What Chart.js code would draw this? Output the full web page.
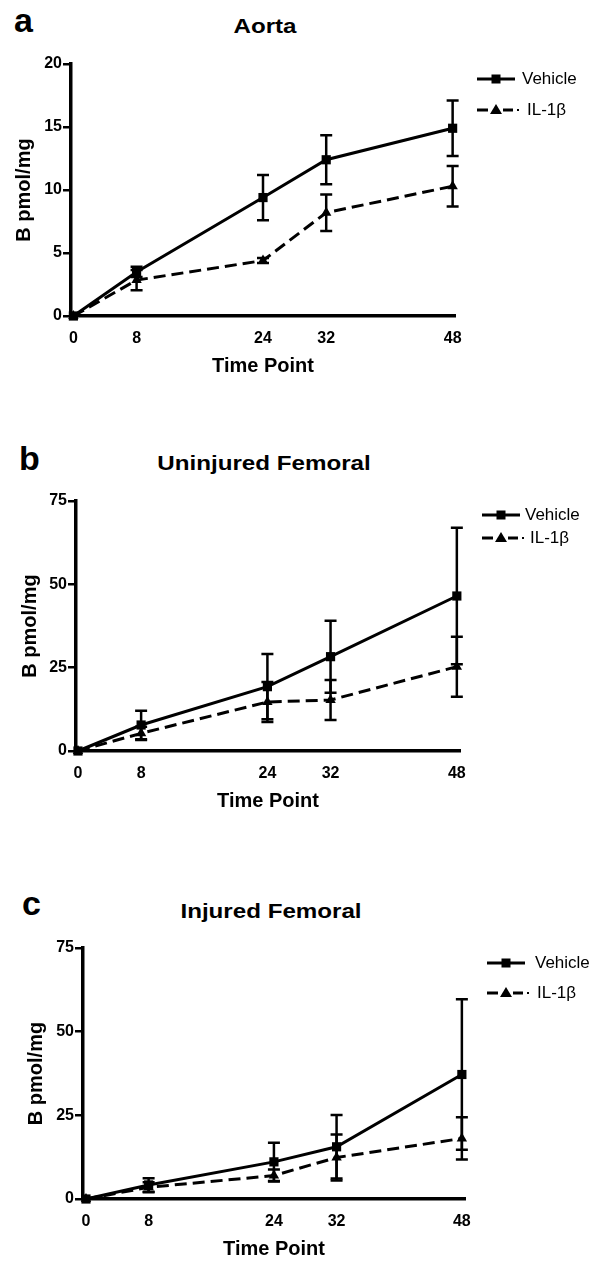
<!DOCTYPE html>
<html>
<head>
<meta charset="utf-8">
<script src="https://cdn.jsdelivr.net/npm/chart.js@4.4.0/dist/chart.umd.min.js"></script>
<style>
body { margin: 0; background: #fff; width: 591px; height: 1262px; position: relative; overflow: hidden; font-family: "Liberation Sans", Arial, sans-serif; color: #000; }
canvas { position: absolute; left: 0; }
.letter { position: absolute; font-weight: bold; font-size: 34px; line-height: 1; }
.title { position: absolute; font-weight: bold; font-size: 21px; line-height: 1; transform: translateX(-50%) scaleX(1.15); white-space: nowrap; }
</style>
</head>
<body>
<div class="letter" style="left:14px;top:3px">a</div>
<div class="title" style="left:265px;top:15px">Aorta</div>
<canvas id="chartA" style="top:0px"></canvas>

<div class="letter" style="left:19px;top:441px">b</div>
<div class="title" style="left:264px;top:452px">Uninjured Femoral</div>
<canvas id="chartB" style="top:420px"></canvas>

<div class="letter" style="left:22px;top:886px">c</div>
<div class="title" style="left:271px;top:900px">Injured Femoral</div>
<canvas id="chartC" style="top:820px"></canvas>

<script>
// time points (hours)
const timePoints = [0, 8, 24, 32, 48];

// a - Aorta
const aortaVehicle = [0, 3.5, 9.4, 12.4, 14.9];
const aortaVehicleErr = [0, 0.4, 1.8, 1.95, 2.2];
const aortaIL = [0, 2.85, 4.4, 8.2, 10.3];
const aortaILErr = [0, 0.8, 0.2, 1.45, 1.6];

// b - Uninjured Femoral
const uninjVehicle = [0, 7.8, 19.3, 28.3, 46.5];
const uninjVehicleErr = [0, 4.3, 9.8, 10.8, 20.5];
const uninjIL = [0, 5.3, 14.7, 15.3, 25.3];
const uninjILErr = [0, 2, 6, 6, 9];

// c - Injured Femoral
const injVehicle = [0, 4.2, 11.1, 15.6, 37.2];
const injVehicleErr = [0, 2, 5.7, 9.5, 22.5];
const injIL = [0, 3.5, 7.0, 12.4, 18.1];
const injILErr = [0, 1.5, 1.8, 6.9, 6.3];

const FONT = '"Liberation Sans", Arial, sans-serif';

function toPts(vals) {
  return vals.map((v, i) => ({ x: timePoints[i], y: v }));
}

// vertical SEM bars with caps
const errorBars = {
  id: 'errorBars',
  afterDatasetsDraw(chart) {
    const ctx = chart.ctx;
    const xs = chart.scales.x, ys = chart.scales.y;
    chart.data.datasets.forEach(ds => {
      if (!ds.err) return;
      ctx.save();
      ctx.strokeStyle = '#000';
      ctx.lineWidth = 2.5;
      ctx.setLineDash([]);
      ds.data.forEach((p, i) => {
        const e = ds.err[i];
        if (!e) return;
        const px = xs.getPixelForValue(p.x);
        const top = ys.getPixelForValue(p.y + e);
        const bot = ys.getPixelForValue(Math.max(p.y - e, 0));
        ctx.beginPath();
        ctx.moveTo(px, top); ctx.lineTo(px, bot);
        ctx.moveTo(px - 6, top); ctx.lineTo(px + 6, top);
        ctx.moveTo(px - 6, bot); ctx.lineTo(px + 6, bot);
        ctx.stroke();
      });
      ctx.restore();
    });
  }
};

// legend at the right side, prism style
const sideLegend = {
  id: 'sideLegend',
  afterDraw(chart, args, o) {
    const ctx = chart.ctx;
    ctx.save();
    ctx.fillStyle = '#000';
    ctx.strokeStyle = '#000';
    ctx.lineWidth = 3;
    // Vehicle
    ctx.beginPath();
    ctx.moveTo(o.x, o.y1); ctx.lineTo(o.x + 38, o.y1);
    ctx.stroke();
    ctx.fillRect(o.x + 19 - 4.5, o.y1 - 4.5, 9, 9);
    // IL-1b
    ctx.beginPath();
    ctx.moveTo(o.x, o.y2); ctx.lineTo(o.x + 11, o.y2);
    ctx.moveTo(o.x + 26, o.y2); ctx.lineTo(o.x + 36, o.y2);
    ctx.stroke();
    ctx.beginPath();
    ctx.moveTo(o.x + 19, o.y2 - 6);
    ctx.lineTo(o.x + 25, o.y2 + 4);
    ctx.lineTo(o.x + 13, o.y2 + 4);
    ctx.closePath();
    ctx.fill();
    ctx.fillRect(o.x + 40, o.y2 - 1, 2, 2);

    ctx.font = '17px ' + FONT;
    ctx.textBaseline = 'middle';
    ctx.fillText('Vehicle', o.tx1, o.y1);
    ctx.fillText('IL-1\u03b2', o.tx2, o.y2);
    ctx.restore();
  }
};

function makeChart(id, c) {
  const canvas = document.getElementById(id);
  canvas.width = 591;
  canvas.height = c.h;
  const xHeight = c.xTitle + 12 - c.axisY;
  new Chart(canvas, {
    type: 'line',
    data: {
      datasets: [
        {
          label: 'Vehicle', data: toPts(c.veh), err: c.vehErr,
          borderColor: '#000', backgroundColor: '#000', borderWidth: 3,
          pointStyle: 'rect', pointRadius: 6.5, pointBorderWidth: 0, clip: false
        },
        {
          label: 'IL-1\u03b2', data: toPts(c.il), err: c.ilErr,
          borderColor: '#000', backgroundColor: '#000', borderWidth: 3, borderDash: [12, 6],
          pointStyle: 'triangle', pointRadius: 6, pointBorderWidth: 0, clip: false
        }
      ]
    },
    options: {
      responsive: false,
      animation: false,
      events: [],
      layout: { padding: { left: 0, right: 591 - c.right, top: c.top, bottom: c.h - (c.xTitle + 12) } },
      plugins: { legend: { display: false }, tooltip: { enabled: false }, sideLegend: c.legend },
      scales: {
        x: {
          type: 'linear', min: c.xMin, max: c.xMax,
          afterFit: s => { s.height = xHeight; },
          afterBuildTicks: s => { s.ticks = timePoints.map(v => ({ value: v })); },
          grid: { display: false, drawTicks: false },
          border: { display: true, color: '#000', width: 3.5 },
          ticks: { color: '#000', padding: 13, maxRotation: 0, autoSkip: false, font: { family: FONT, size: 16, weight: 'bold' } },
          title: { display: true, text: 'Time Point', color: '#000', padding: 0, font: { family: FONT, size: 20, weight: 'bold', lineHeight: 1.2 } }
        },
        y: {
          min: 0, max: c.yMax,
          afterFit: s => { s.width = c.left; },
          grid: { display: true, drawOnChartArea: false, drawTicks: true, tickLength: 8, color: '#000', lineWidth: 2.5 },
          border: { display: true, color: '#000', width: 3.5 },
          ticks: { stepSize: c.yStep, color: '#000', padding: 1, font: { family: FONT, size: 16, weight: 'bold' } },
          title: { display: true, text: 'B pmol/mg', color: '#000', padding: { top: c.yTitleX - 12 }, font: { family: FONT, size: 20, weight: 'bold', lineHeight: 1.2 } }
        }
      }
    },
    plugins: [errorBars, sideLegend]
  });
}

makeChart('chartA', {
  h: 420, top: 64, left: 71, right: 455, axisY: 316, xTitle: 366, yTitleX: 24,
  xMin: -0.3, xMax: 48.3, yMax: 20, yStep: 5,
  veh: aortaVehicle, vehErr: aortaVehicleErr, il: aortaIL, ilErr: aortaILErr,
  legend: { x: 477, y1: 79, y2: 110, tx1: 522, tx2: 527 }
});

makeChart('chartB', {
  h: 400, top: 81, left: 76, right: 460, axisY: 331, xTitle: 381, yTitleX: 30,
  xMin: -0.25, xMax: 48.4, yMax: 75, yStep: 25,
  veh: uninjVehicle, vehErr: uninjVehicleErr, il: uninjIL, ilErr: uninjILErr,
  legend: { x: 482, y1: 95, y2: 118, tx1: 525, tx2: 530 }
});

makeChart('chartC', {
  h: 442, top: 128, left: 83, right: 465, axisY: 379, xTitle: 429, yTitleX: 36.5,
  xMin: -0.38, xMax: 48.4, yMax: 75, yStep: 25,
  veh: injVehicle, vehErr: injVehicleErr, il: injIL, ilErr: injILErr,
  legend: { x: 487, y1: 143, y2: 173, tx1: 535, tx2: 537 }
});
</script>
</body>
</html>
